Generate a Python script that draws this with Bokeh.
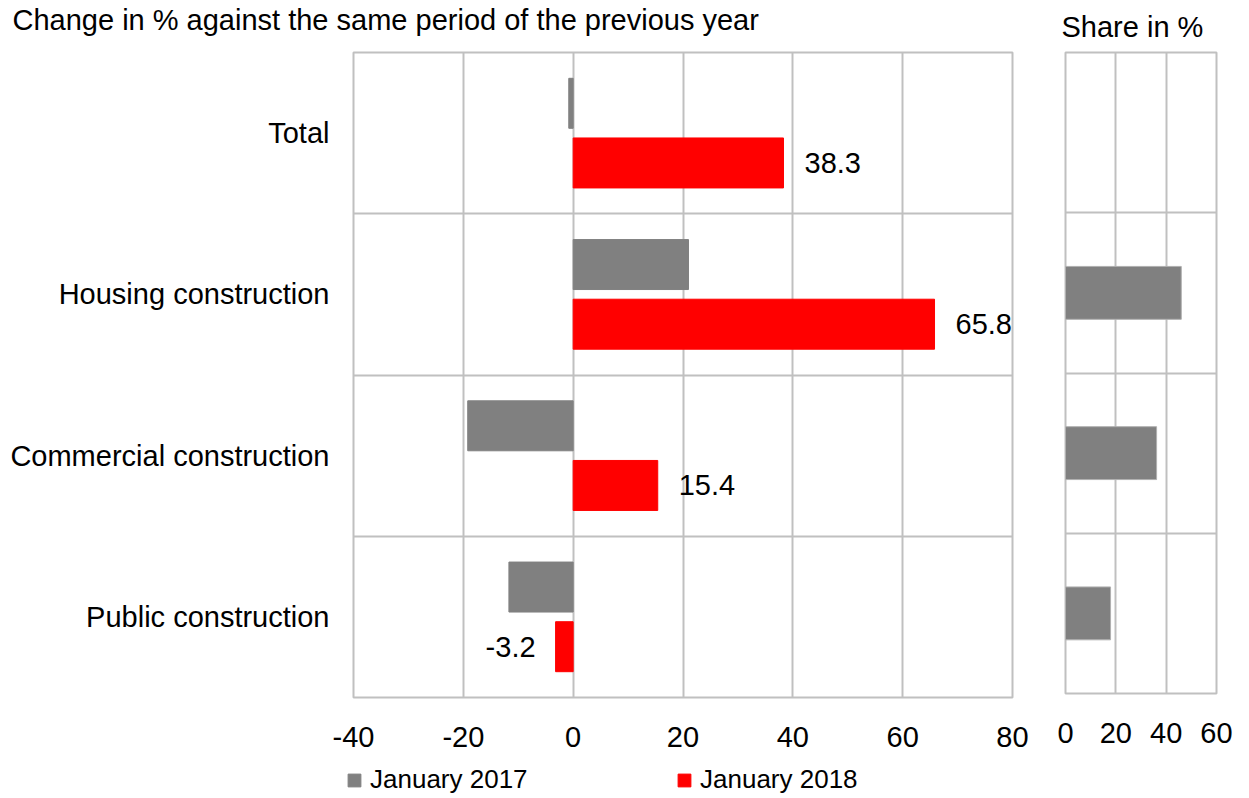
import numpy as np
from bokeh.plotting import figure
from bokeh.layouts import row, column
from bokeh.models import ColumnDataSource, Legend, LegendItem, Range1d, Label
from bokeh.embed import file_html
from bokeh.resources import INLINE

# Construction output: change against previous year and share of total
categories = ["Total", "Housing construction", "Commercial construction", "Public construction"]
jan_2017 = [-0.8, 21.0, -19.2, -11.7]
jan_2018 = [38.3, 65.8, 15.4, -3.2]
share_2017 = [np.nan, 46.0, 36.2, 17.9]
change_ticks = [-40, -20, 0, 20, 40, 60, 80]
share_ticks = [0, 20, 40, 60]
series_names = ["January 2017", "January 2018"]
panel_titles = ["Change in % against the same period of the previous year", "Share in %"]

FONT = "Liberation Sans"
GRID = "#c0c0c0"
GREY = "#808080"
RED = "#ff0000"
TXT = "29px"
W = 1249

n = len(categories)
centers = [n - i - 0.5 for i in range(n)]  # first category on top
pair_offset = 0.185
bar_h = 0.31


def bare_strip(height):
    """A frame-only strip used for headings and the legend."""
    f = figure(width=W, height=height, x_range=Range1d(0, W), y_range=Range1d(0, height),
               output_backend="svg", toolbar_location=None, title=None,
               x_axis_location=None, y_axis_location=None,
               min_border=0, outline_line_color=None)
    f.grid.visible = False
    return f


def style_axes(fig, ticks):
    fig.xaxis.ticker = ticks
    fig.xaxis.major_label_overrides = {t: (f"-{abs(t)}" if t < 0 else str(t)) for t in ticks}
    fig.xgrid.ticker = ticks
    fig.ygrid.ticker = [1, 2, 3]
    for g in (fig.xgrid, fig.ygrid):
        g.grid_line_color = GRID
        g.grid_line_width = 2
    fig.outline_line_color = GRID
    fig.outline_line_width = 2
    ax = fig.xaxis[0]
    ax.axis_line_color = None
    ax.major_tick_line_color = None
    ax.minor_tick_line_color = None
    ax.major_label_text_font = FONT
    ax.major_label_text_font_size = TXT
    ax.major_label_text_color = "black"
    ax.major_label_standoff = 23


# ---- headings ----
head = bare_strip(49)
for txt, x, y in ((panel_titles[0], 12, 30), (panel_titles[1], 1061, 23)):
    head.add_layout(Label(x=x, y=y, text=txt, text_font=FONT, text_font_size=TXT,
                          text_color="black", text_baseline="alphabetic", text_align="left"))

# ---- left panel: change in % ----
src = ColumnDataSource(dict(
    y17=[c + pair_offset for c in centers],
    y18=[c - pair_offset for c in centers],
    v17=jan_2017,
    v18=jan_2018,
))

p = figure(frame_width=659, frame_height=645, x_range=Range1d(-40, 80), y_range=Range1d(0, n),
           output_backend="svg", toolbar_location=None, title=None,
           min_border_left=353, min_border_right=28, min_border_top=0, min_border_bottom=66)
style_axes(p, change_ticks)

ya = p.yaxis[0]
ya.ticker = centers
ya.major_label_overrides = {c: name for c, name in zip(centers, categories)}
ya.axis_line_color = None
ya.major_tick_line_color = None
ya.minor_tick_line_color = None
ya.major_label_text_font = FONT
ya.major_label_text_font_size = TXT
ya.major_label_text_color = "black"
ya.major_label_standoff = 18

p.hbar(y="y17", left=0, right="v17", height=bar_h, source=src, fill_color=GREY, line_color=GREY)
p.hbar(y="y18", left=0, right="v18", height=bar_h, source=src, fill_color=RED, line_color=RED)

# value labels for the January 2018 bars
pos = [i for i, v in enumerate(jan_2018) if v >= 0]
neg = [i for i, v in enumerate(jan_2018) if v < 0]
for idx, align, off in ((pos, "left", 21), (neg, "right", -20)):
    lab = ColumnDataSource(dict(
        x=[jan_2018[i] for i in idx],
        y=[centers[i] - pair_offset for i in idx],
        t=[f"{jan_2018[i]:.1f}" for i in idx],
    ))
    p.text(x="x", y="y", text="t", source=lab, text_align=align, text_baseline="middle",
           x_offset=off, text_font_size=TXT, text_color="black",
           text_font={"value": FONT})

# ---- right panel: share in % ----
q = figure(frame_width=151, frame_height=641, x_range=Range1d(0, 60), y_range=Range1d(0, n),
           output_backend="svg", toolbar_location=None, title=None,
           min_border_left=25, min_border_right=33, min_border_top=3, min_border_bottom=67)
style_axes(q, share_ticks)
q.yaxis.visible = False

share_src = ColumnDataSource(dict(y=centers, v=np.array(share_2017, dtype=float)))
q.hbar(y="y", left=0, right="v", height=0.33, source=share_src,
       fill_color=GREY, line_color="#b0b0b0")

# ---- legend strip ----
leg_fig = bare_strip(38)
# swatch renderers sit below the strip's visible range; only their legend glyphs show
swatch_src = ColumnDataSource(dict(y=[-100], r=[0]))
swatches = [leg_fig.hbar(y="y", left=0, right="r", height=1, source=swatch_src,
                         fill_color=c, line_color=c)
            for c in (GREY, RED)]
for name, rend, x in zip(series_names, swatches, (346, 676)):
    leg_fig.add_layout(Legend(items=[LegendItem(label=name, renderers=[rend])], location=(x, 3),
                              border_line_color=None, background_fill_alpha=0, padding=0, margin=0,
                              glyph_width=16, glyph_height=16, label_standoff=8,
                              label_text_font=FONT, label_text_font_size="26px",
                              label_text_color="black"))

layout = column(head, row(p, q), leg_fig)
open("out.html", "w").write(file_html(layout, INLINE))
